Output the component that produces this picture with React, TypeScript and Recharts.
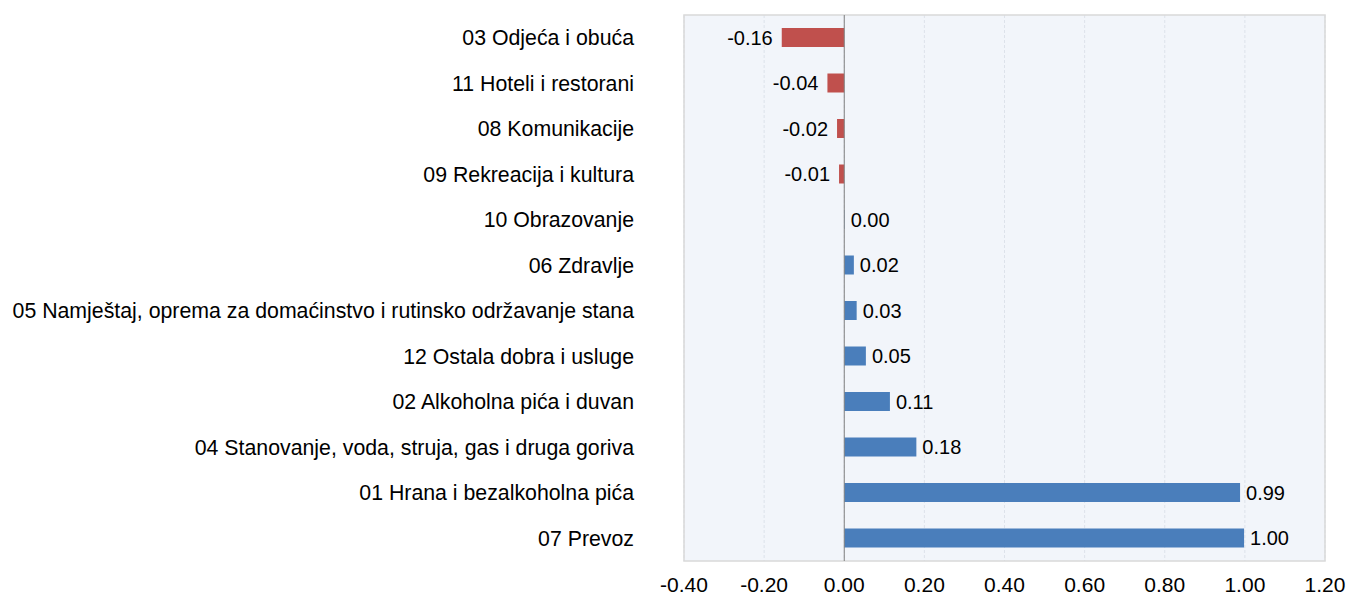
import React from "react";
import {
  BarChart,
  Bar,
  XAxis,
  YAxis,
  CartesianGrid,
  ReferenceLine,
  ReferenceArea,
  LabelList,
  Cell,
} from "recharts";

const categories = [
  "03 Odjeća i obuća",
  "11 Hoteli i restorani",
  "08 Komunikacije",
  "09 Rekreacija i kultura",
  "10 Obrazovanje",
  "06 Zdravlje",
  "05 Namještaj, oprema za domaćinstvo i rutinsko održavanje stana",
  "12 Ostala dobra i usluge",
  "02 Alkoholna pića i duvan",
  "04 Stanovanje, voda, struja, gas i druga goriva",
  "01 Hrana i bezalkoholna pića",
  "07 Prevoz",
];

const contributions = [
  -0.156, -0.042, -0.018, -0.013, 0.001, 0.024, 0.031, 0.054, 0.114, 0.18, 0.988, 0.998,
];

const xTicks = [-0.4, -0.2, 0, 0.2, 0.4, 0.6, 0.8, 1.0, 1.2];

const data = categories.map((name, i) => ({ name, value: contributions[i] }));

const FONT = "'Liberation Sans', Arial, sans-serif";
const RED = "#c0504d";
const BLUE = "#4a7ebb";

const renderLabel = (props: any) => {
  const { x, y, width, height, value } = props;
  const end = Number(x) + Number(width);
  const cy = Number(y) + Number(height) / 2;
  const neg = value < 0;
  return (
    <text
      x={neg ? end - 9 : end + 6}
      y={cy}
      textAnchor={neg ? "end" : "start"}
      dominantBaseline="central"
      fontSize={20}
      fontFamily={FONT}
      fill="#000"
    >
      {Number(value).toFixed(2)}
    </text>
  );
};

export default function App() {
  return (
    <div style={{ position: "absolute", left: 0, top: 0, background: "#fff" }}>
      <BarChart
        width={1347}
        height={597}
        data={data}
        layout="vertical"
        margin={{ top: 15, right: 22, bottom: 0, left: 0 }}
      >
        <CartesianGrid
          horizontal={false}
          vertical={true}
          stroke="#dde2ea"
          strokeDasharray="3 2"
          fill="#f2f5fa"
        />
        <ReferenceArea
          x1={-0.4}
          x2={1.2}
          fill="none"
          stroke="#d9d9d9"
          strokeWidth={1.5}
          ifOverflow="visible"
        />
        <XAxis
          type="number"
          domain={[-0.4, 1.2]}
          ticks={xTicks}
          tickFormatter={(v: number) => v.toFixed(2)}
          axisLine={false}
          tickLine={false}
          tickSize={0}
          tickMargin={16}
          height={36}
          tick={{ fontSize: 21, fontFamily: FONT, fill: "#000" }}
        />
        <YAxis
          type="category"
          dataKey="name"
          width={684}
          axisLine={false}
          tickLine={false}
          tickSize={0}
          tickMargin={50}
          interval={0}
          tick={{ fontSize: 21.3, fontFamily: FONT, fill: "#000" }}
        />
        <ReferenceLine x={0} stroke="#808080" strokeWidth={1} />
        <Bar dataKey="value" barSize={19} isAnimationActive={false}>
          {data.map((d, i) => (
            <Cell key={i} fill={d.value < 0 ? RED : BLUE} />
          ))}
          <LabelList dataKey="value" content={renderLabel} />
        </Bar>
      </BarChart>
    </div>
  );
}
